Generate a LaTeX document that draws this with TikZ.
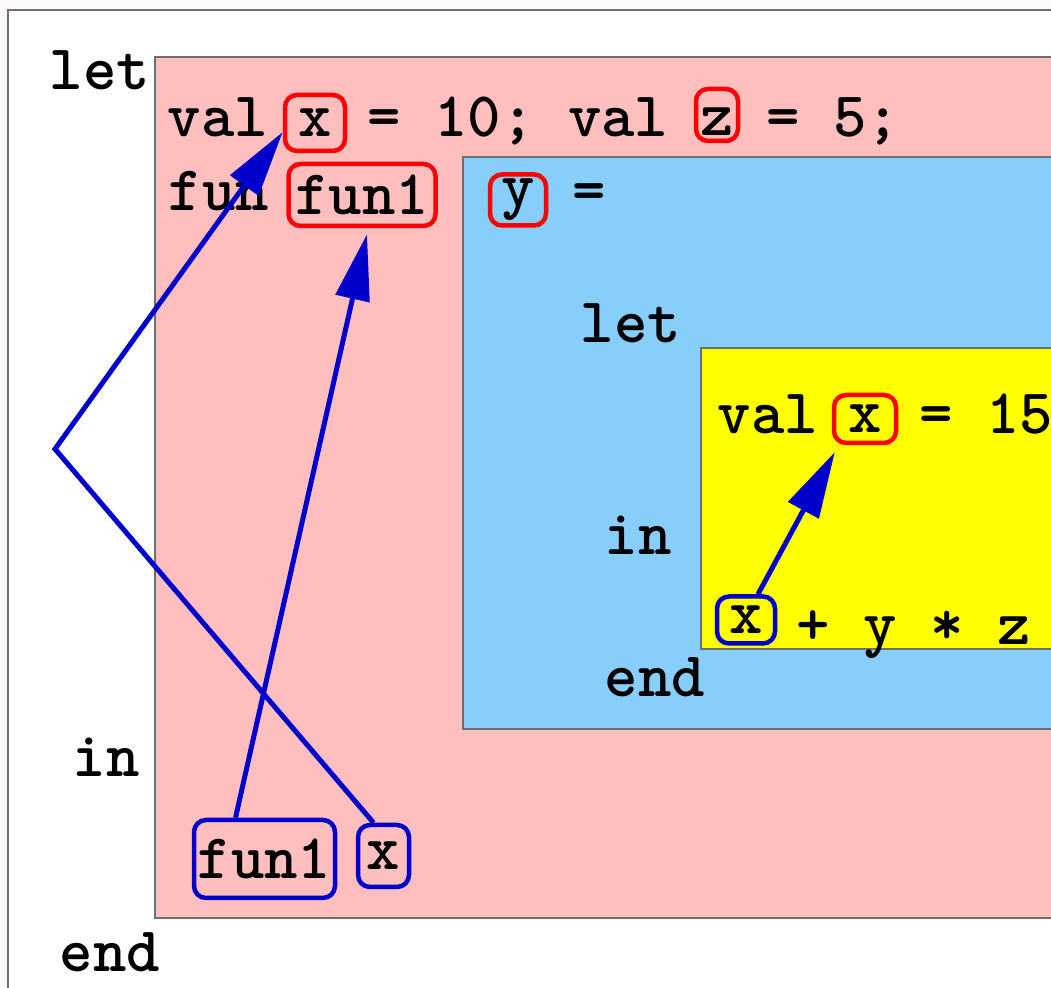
\documentclass[tikz,border=0pt]{standalone}
\usepackage{fontspec}
\usetikzlibrary{arrows.meta}
\definecolor{pinkbg}{RGB}{255,191,191}
\definecolor{skybg}{RGB}{135,206,250}
\definecolor{yellowbg}{RGB}{255,255,0}
\definecolor{paper}{RGB}{253,249,248}
\definecolor{refblue}{RGB}{0,0,204}
\definecolor{framegray}{RGB}{110,110,110}
\begin{document}
\begin{tikzpicture}[
    code/.style={anchor=base west, inner sep=0pt, font=\fontsize{18.1}{21}\selectfont\ttfamily\bfseries},
    defbox/.style={code, anchor=center, draw=red, line width=0.045cm, rounded corners=0.12cm},
    usebox/.style={defbox, draw=refblue},
    scopebox/.style={draw=framegray, line width=0.4pt},
    ref/.style={draw=refblue, line width=0.05cm, -{Triangle[length=0.66cm,width=0.34cm]}}
  ]
  \useasboundingbox (0,0) rectangle (10.51,9.88);
  \fill[paper] (0,0) rectangle (10.51,9.88);
  \clip (0,0) rectangle (10.51,9.88);
  \draw[fill=white, draw=framegray, line width=0.02cm] (0.08,-1) rectangle (11.5,9.78);
  \draw[scopebox, fill=pinkbg] (1.55,0.70) rectangle (11.5,9.31);
  \draw[scopebox, fill=skybg] (4.63,2.59) rectangle (11.5,8.31);
  \draw[scopebox, fill=yellowbg] (7.01,3.39) rectangle (11.5,6.40);
  % outer let
  \node[code] (let1) at (0.49,8.98) {let};
  \node[code] (val1) at (1.67,8.51) {val};
  \node[defbox, minimum width=0.60cm, minimum height=0.56cm] (defx) at (3.15,8.65) {x};
  \node[code] (ten) at (3.67,8.51) {= 10; val};
  \node[defbox, minimum width=0.42cm, minimum height=0.52cm, text height=0.42cm, text depth=0cm] (defz) at (7.17,8.73) {z};
  \node[code] (five) at (7.66,8.51) {= 5;};
  \node[code] (fun) at (1.68,7.77) {fun};
  \node[defbox, minimum width=1.47cm, minimum height=0.62cm] (deffun) at (3.62,7.93) {fun1};
  \node[defbox, minimum width=0.56cm, minimum height=0.51cm] (defy) at (5.18,7.88) {y};
  \node[code] (eq) at (5.72,7.77) {=};
  % inner let
  \node[code] (let2) at (5.80,6.45) {let};
  \node[code] (val2) at (7.17,5.54) {val};
  \node[defbox, minimum width=0.62cm, minimum height=0.48cm] (innx) at (8.65,5.69) {x};
  \node[code] (fifteen) at (9.19,5.54) {= 15};
  \node[code] (in2) at (6.04,4.33) {in};
  \node[usebox, minimum width=0.58cm, minimum height=0.47cm] (usebx) at (7.46,3.68) {x};
  \node[code] (body) at (7.96,3.43) {+ y * z};
  \node[code] (end2) at (6.04,2.91) {end};
  % outer body
  \node[code] (in1) at (0.72,2.11) {in};
  \node[usebox, minimum width=1.41cm, minimum height=0.78cm] (usefun) at (2.645,1.29) {fun1};
  \node[usebox, minimum width=0.51cm, minimum height=0.62cm] (usex) at (3.835,1.32) {x};
  \node[code] (end1) at (0.59,0.16) {end};
  \coordinate (bend) at (0.55,5.39);
  \draw[ref] ([xshift=-0.29cm]usefun.north) -- ([xshift=0.05cm,yshift=-0.06cm]deffun.south);
  \draw[ref] ([xshift=-0.1cm]usex.north) -- (bend) -- ([yshift=-0.09cm]defx.west);
  \draw[ref] ([xshift=0.12cm]usebx.north) -- ([xshift=0.03cm,yshift=-0.07cm]innx.south west);
\end{tikzpicture}
\end{document}
